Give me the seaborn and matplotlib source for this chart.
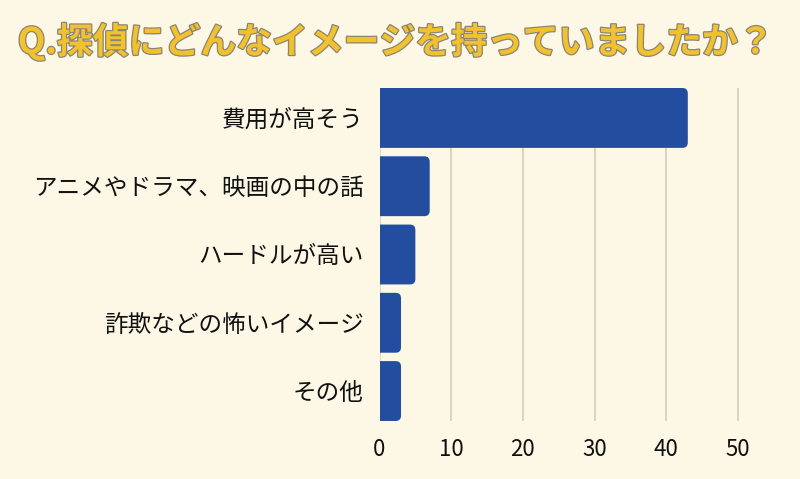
import matplotlib
matplotlib.use("Agg")
import matplotlib.pyplot as plt
import matplotlib.patheffects as pe
from matplotlib.patches import FancyBboxPatch
import seaborn as sns
import pandas as pd

categories = ["費用が高そう", "アニメやドラマ、映画の中の話", "ハードルが高い", "詐欺などの怖いイメージ", "その他"]
values = [43, 7, 5, 3, 3]
xticks = [0, 10, 20, 30, 40, 50]
title = "Q.探偵にどんなイメージを持っていましたか？"

BG = "#FDF8E6"
BAR = "#234EA0"
GRID = "#D2CEBB"

sns.set_theme(style="white")
plt.rcParams['font.family'] = ['Noto Sans CJK JP', 'DejaVu Sans']

df = pd.DataFrame({"category": categories, "value": values})

fig = plt.figure(figsize=(8, 4.79), dpi=100, facecolor=BG)
ax = fig.add_axes([0.4744, 0.1211, 0.466, 0.6952])
ax.set_facecolor(BG)

sns.barplot(data=df, x="value", y="category", orient="h", color=BAR,
            width=0.877, ax=ax, saturation=1)

# Replace bars with rounded-corner versions
r = 0.75
aspect = (1 / 68.4) / (1 / 7.17)
for p in list(ax.patches):
    x0, y0 = p.get_x(), p.get_y()
    w, h = p.get_width(), p.get_height()
    p.remove()
    fb = FancyBboxPatch((x0 - 2 * r, y0), w + 2 * r, h,
                        boxstyle=f"round,pad=0,rounding_size={r}",
                        mutation_aspect=aspect,
                        facecolor=BAR, edgecolor="none", zorder=3)
    ax.add_patch(fb)

ax.set_xlim(0, 52)
ax.set_ylim(4.4386, -0.4386)
ax.set_xticks(xticks)
ax.set_xticklabels([str(t) for t in xticks], fontsize=16, color="#111111")
ax.tick_params(axis="x", length=0, pad=12)
ax.tick_params(axis="y", length=0, pad=11.5, labelsize=17, labelcolor="#111111")
ax.set_xlabel("")
ax.set_ylabel("")
for s in ax.spines.values():
    s.set_visible(False)
ax.xaxis.grid(True, color=GRID, linewidth=1.2)
ax.set_axisbelow(True)

fig.text(0.495, 0.912, title, ha="center", va="center", fontsize=25.8,
         fontweight="bold", color="#F2C12E",
         path_effects=[pe.withStroke(linewidth=1.8, foreground="#8A8578")])

fig.savefig("out.png", dpi=100, facecolor=BG)
